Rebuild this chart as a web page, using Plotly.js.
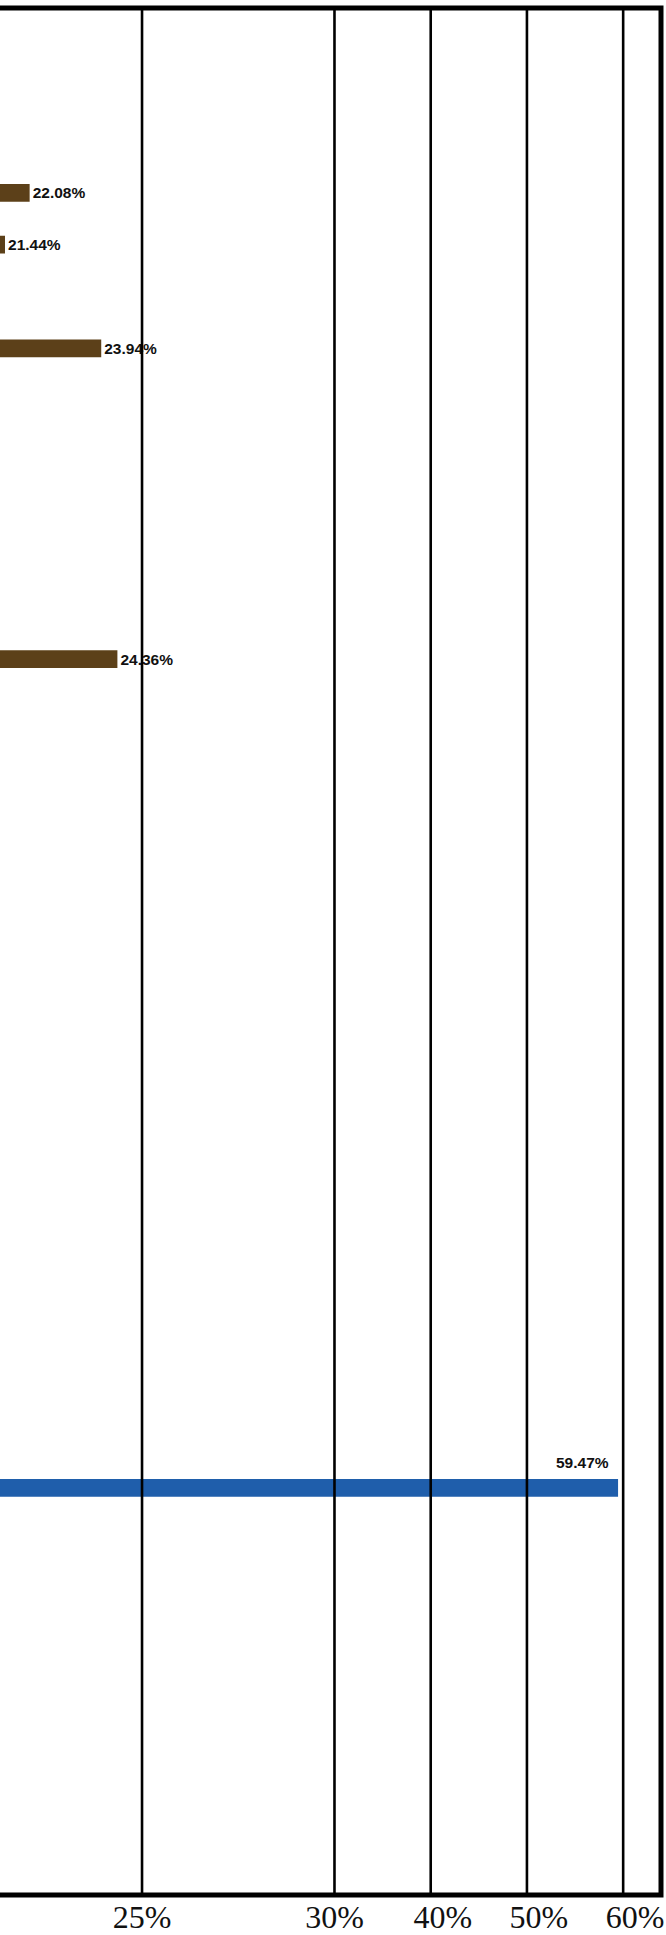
<!DOCTYPE html>
<html>
<head>
<meta charset="utf-8">
<script src="https://cdn.plot.ly/plotly-3.0.1.min.js"></script>
<style>
  html, body { margin: 0; padding: 0; background: #ffffff; overflow: hidden; }
  #chart { width: 666px; height: 1935px; }
</style>
</head>
<body>
<div id="chart"></div>
<script>
// ---- data (category labels are cropped off on the left) ----
const brownRanks  = [4, 5, 7, 13];                 // row position of each item in the list
const brownValues = [22.08, 21.44, 23.94, 24.36];  // percent
const blueRanks   = [29];
const blueValues  = [59.47];
const tickValues  = [25, 30, 40, 50, 60];
const tickLabels  = ['25%', '30%', '40%', '50%', '60%'];

// broken percentage scale: linear up to 30 %, compressed 4x above 30 %
function axisPos(v) { return v <= 30 ? v : 30 + (v - 30) / 4; }
function pct(v) { return v.toFixed(2) + '%'; }

const labelFont = { family: '"Liberation Sans", Arial, sans-serif', size: 15.5, color: '#111111', weight: 'bold' };
const tickFont  = { family: '"Liberation Serif", "Times New Roman", serif', size: 32, color: '#111111' };

const traces = [
  {
    type: 'bar', orientation: 'h',
    x: brownValues.map(axisPos), y: brownRanks,
    xaxis: 'x', yaxis: 'y',
    width: 0.342,
    marker: { color: '#5C4019' },
    text: brownValues.map(pct),
    textposition: 'outside',
    constraintext: 'none',
    cliponaxis: false,
    textfont: labelFont,
    hoverinfo: 'skip'
  },
  {
    type: 'bar', orientation: 'h',
    x: blueValues.map(axisPos), y: blueRanks,
    xaxis: 'x2', yaxis: 'y',
    width: 0.342,
    marker: { color: '#1F5EAB' },
    textposition: 'none',
    hoverinfo: 'skip'
  }
];

const low  = tickValues.filter(v => v <= 30);
const high = tickValues.filter(v => v > 30);
const labelOf = v => tickLabels[tickValues.indexOf(v)];

const xRange = [21.31, 38.483];

const shapes = tickValues.map(v => ({
  type: 'line', xref: 'x', yref: 'paper',
  x0: axisPos(v), x1: axisPos(v), y0: 0, y1: 1,
  line: { color: '#000000', width: 2.6 },
  layer: 'above'
}));
shapes.push({
  type: 'rect', xref: 'paper', yref: 'paper',
  x0: -0.06, x1: 1, y0: 0, y1: 1,
  line: { color: '#000000', width: 5 },
  fillcolor: 'rgba(0,0,0,0)',
  layer: 'above'
});

const annotations = blueValues.map((v, i) => ({
  x: axisPos(v), y: blueRanks[i], xref: 'x', yref: 'y',
  text: pct(v), showarrow: false,
  xanchor: 'right', yanchor: 'middle',
  xshift: -7, yshift: 25,
  font: labelFont
}));

const layout = {
  width: 666, height: 1935,
  margin: { l: 0, r: 5, t: 8, b: 40, pad: 0 },
  paper_bgcolor: '#ffffff', plot_bgcolor: '#ffffff',
  showlegend: false,
  barmode: 'overlay',
  xaxis: {
    range: xRange, fixedrange: true,
    showgrid: false, zeroline: false, showline: false,
    ticks: '', tickmode: 'array',
    tickvals: low.map(axisPos), ticktext: low.map(labelOf),
    tickfont: tickFont, automargin: false
  },
  xaxis2: {
    overlaying: 'x', matches: 'x', anchor: 'y', side: 'bottom',
    range: xRange, fixedrange: true,
    showgrid: false, zeroline: false, showline: false,
    ticks: '', tickmode: 'array',
    tickvals: high.map(axisPos), ticktext: high.map(labelOf),
    ticklabelshift: 12,
    tickfont: tickFont, automargin: false
  },
  yaxis: {
    range: [36.86, 0.43], fixedrange: true,
    showgrid: false, zeroline: false, showline: false,
    showticklabels: false, ticks: '', automargin: false
  },
  shapes: shapes,
  annotations: annotations
};

Plotly.newPlot('chart', traces, layout, { staticPlot: true, displayModeBar: false });
</script>
</body>
</html>
